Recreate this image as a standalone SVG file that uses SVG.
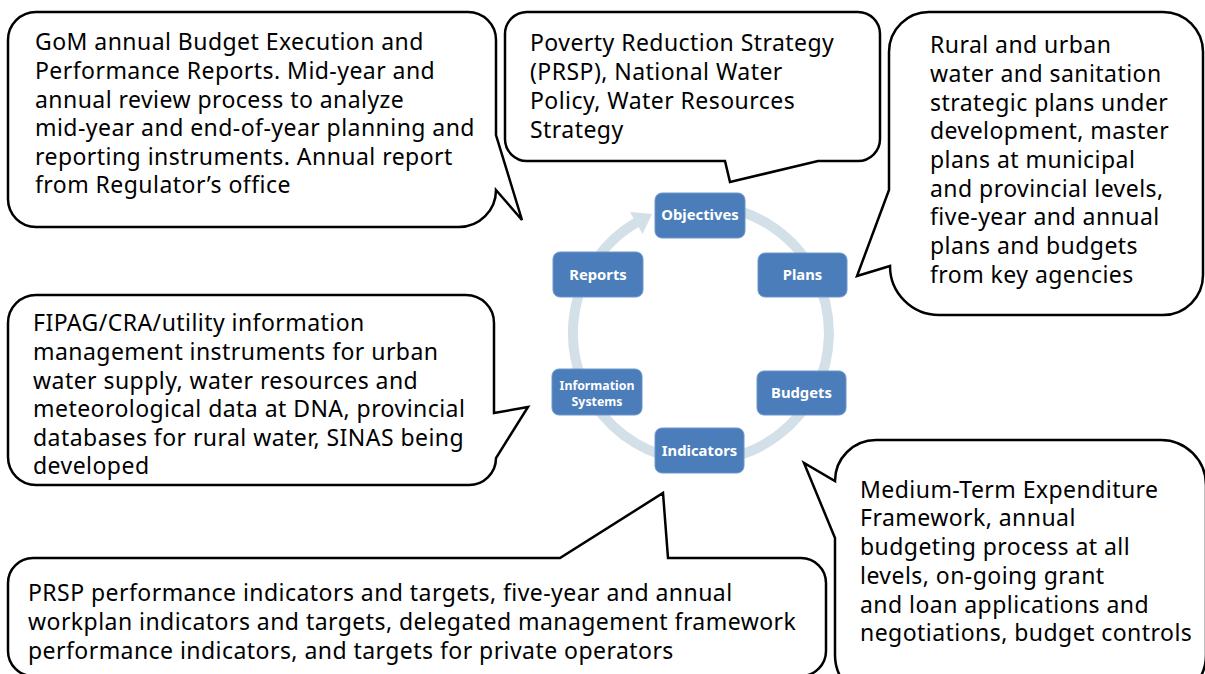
<svg xmlns="http://www.w3.org/2000/svg" width="1205" height="674" viewBox="0 0 1205 674">
<style>
.callout{fill:#fff;stroke:#000;stroke-width:2.5;stroke-linejoin:miter}
.ct{font-family:"Noto Sans","Open Sans","Liberation Sans",sans-serif;font-size:23px;letter-spacing:0.45px;fill:#000}
.node rect{fill:#4A7DBA;stroke:#6C97CB;stroke-width:1}
.nt{font-family:"Noto Sans","Open Sans","Liberation Sans",sans-serif;font-weight:bold;font-size:14.8px;fill:#fff;text-anchor:middle}
.nts{font-size:12.3px}
</style>
<rect width="1205" height="674" fill="#fff"/>
<g id="connectors">
<path d="M723.2,207 A128,128 0 1 1 637,222.15" fill="none" stroke="#D3E0E8" stroke-width="10"/>
<polygon points="630,212 652,214 642.5,234" fill="#D3E0E8"/>
</g>
<g id="callout-reports">
<path class="callout" d="M36,12 H468 A28,28 0 0 1 496,40 V135 L522,220 L496,190 A37,37 0 0 1 459,227 H36 A28,28 0 0 1 8,199 V40 A28,28 0 0 1 36,12 Z"/>
<text class="ct"><tspan x="35" y="50">GoM annual Budget Execution and</tspan><tspan x="35" y="79">Performance Reports. Mid-year and</tspan><tspan x="35" y="108">annual review process to analyze</tspan><tspan x="35" y="136">mid-year and end-of-year planning and</tspan><tspan x="35" y="165">reporting instruments. Annual report</tspan><tspan x="35" y="193">from Regulator’s office</tspan></text>
</g>
<g id="callout-objectives">
<path class="callout" d="M527,12 H858 A22,22 0 0 1 880,34 V139 A22,22 0 0 1 858,161 H818 L730,182 L725,161 H527 A22,22 0 0 1 505,139 V34 A22,22 0 0 1 527,12 Z"/>
<text class="ct"><tspan x="530" y="51">Poverty Reduction Strategy</tspan><tspan x="530" y="80">(PRSP), National Water</tspan><tspan x="530" y="109">Policy, Water Resources</tspan><tspan x="530" y="138">Strategy</tspan></text>
</g>
<g id="callout-plans">
<path class="callout" d="M930,12 H1163 A40,40 0 0 1 1203,52 V275 A40,40 0 0 1 1163,315 H939 A49,49 0 0 1 890,266 L857,276 L889,190 V52 A40,40 0 0 1 930,12 Z"/>
<text class="ct"><tspan x="930" y="53">Rural and urban</tspan><tspan x="930" y="82">water and sanitation</tspan><tspan x="930" y="111">strategic plans under</tspan><tspan x="930" y="139">development, master</tspan><tspan x="930" y="168">plans at municipal</tspan><tspan x="930" y="197">and provincial levels,</tspan><tspan x="930" y="225">five-year and annual</tspan><tspan x="930" y="254">plans and budgets</tspan><tspan x="930" y="283">from key agencies</tspan></text>
</g>
<g id="callout-information">
<path class="callout" d="M36,295 H466 A28,28 0 0 1 494,323 V413 L528,407 L496,458 A27,27 0 0 1 469,485 H36 A28,28 0 0 1 8,457 V323 A28,28 0 0 1 36,295 Z"/>
<text class="ct"><tspan x="33" y="331">FIPAG/CRA/utility information</tspan><tspan x="33" y="360">management instruments for urban</tspan><tspan x="33" y="389">water supply, water resources and</tspan><tspan x="33" y="417">meteorological data at DNA, provincial</tspan><tspan x="33" y="446">databases for rural water, SINAS being</tspan><tspan x="33" y="474">developed</tspan></text>
</g>
<g id="callout-indicators">
<path class="callout" d="M33,558 H560 L663,493 L668,558 H801 A25,25 0 0 1 826,583 V651 A25,25 0 0 1 801,676 H33 A25,25 0 0 1 8,651 V583 A25,25 0 0 1 33,558 Z"/>
<text class="ct"><tspan x="28" y="601">PRSP performance indicators and targets, five-year and annual</tspan><tspan x="28" y="630">workplan indicators and targets, delegated management framework</tspan><tspan x="28" y="659">performance indicators, and targets for private operators</tspan></text>
</g>
<g id="callout-budgets">
<path class="callout" d="M876,440 H1161 A45,45 0 0 1 1206,485 V655 A45,45 0 0 1 1161,700 H880 A45,45 0 0 1 835,655 V538 L804,463 L835,481 A41,41 0 0 1 876,440 Z"/>
<text class="ct"><tspan x="860" y="498">Medium-Term Expenditure</tspan><tspan x="860" y="526">Framework, annual</tspan><tspan x="860" y="555">budgeting process at all</tspan><tspan x="860" y="584">levels, on-going grant</tspan><tspan x="860" y="613">and loan applications and</tspan><tspan x="860" y="641">negotiations, budget controls</tspan></text>
</g>
<g id="node-objectives" class="node"><rect x="655" y="193" width="90" height="45" rx="7"/><text class="nt" x="700" y="220">Objectives</text></g>
<g id="node-plans" class="node"><rect x="758" y="253" width="89" height="44" rx="7"/><text class="nt" x="802.5" y="280">Plans</text></g>
<g id="node-budgets" class="node"><rect x="757" y="371" width="89" height="44" rx="7"/><text class="nt" x="801.5" y="398">Budgets</text></g>
<g id="node-indicators" class="node"><rect x="655" y="428" width="89" height="45" rx="7"/><text class="nt" x="699.5" y="456">Indicators</text></g>
<g id="node-information-systems" class="node"><rect x="552" y="369" width="90" height="46" rx="7"/><text class="nt nts"><tspan x="597" y="390">Information</tspan><tspan x="597" y="406">Systems</tspan></text></g>
<g id="node-reports" class="node"><rect x="553" y="252" width="90" height="45" rx="7"/><text class="nt" x="598" y="280">Reports</text></g>
</svg>
